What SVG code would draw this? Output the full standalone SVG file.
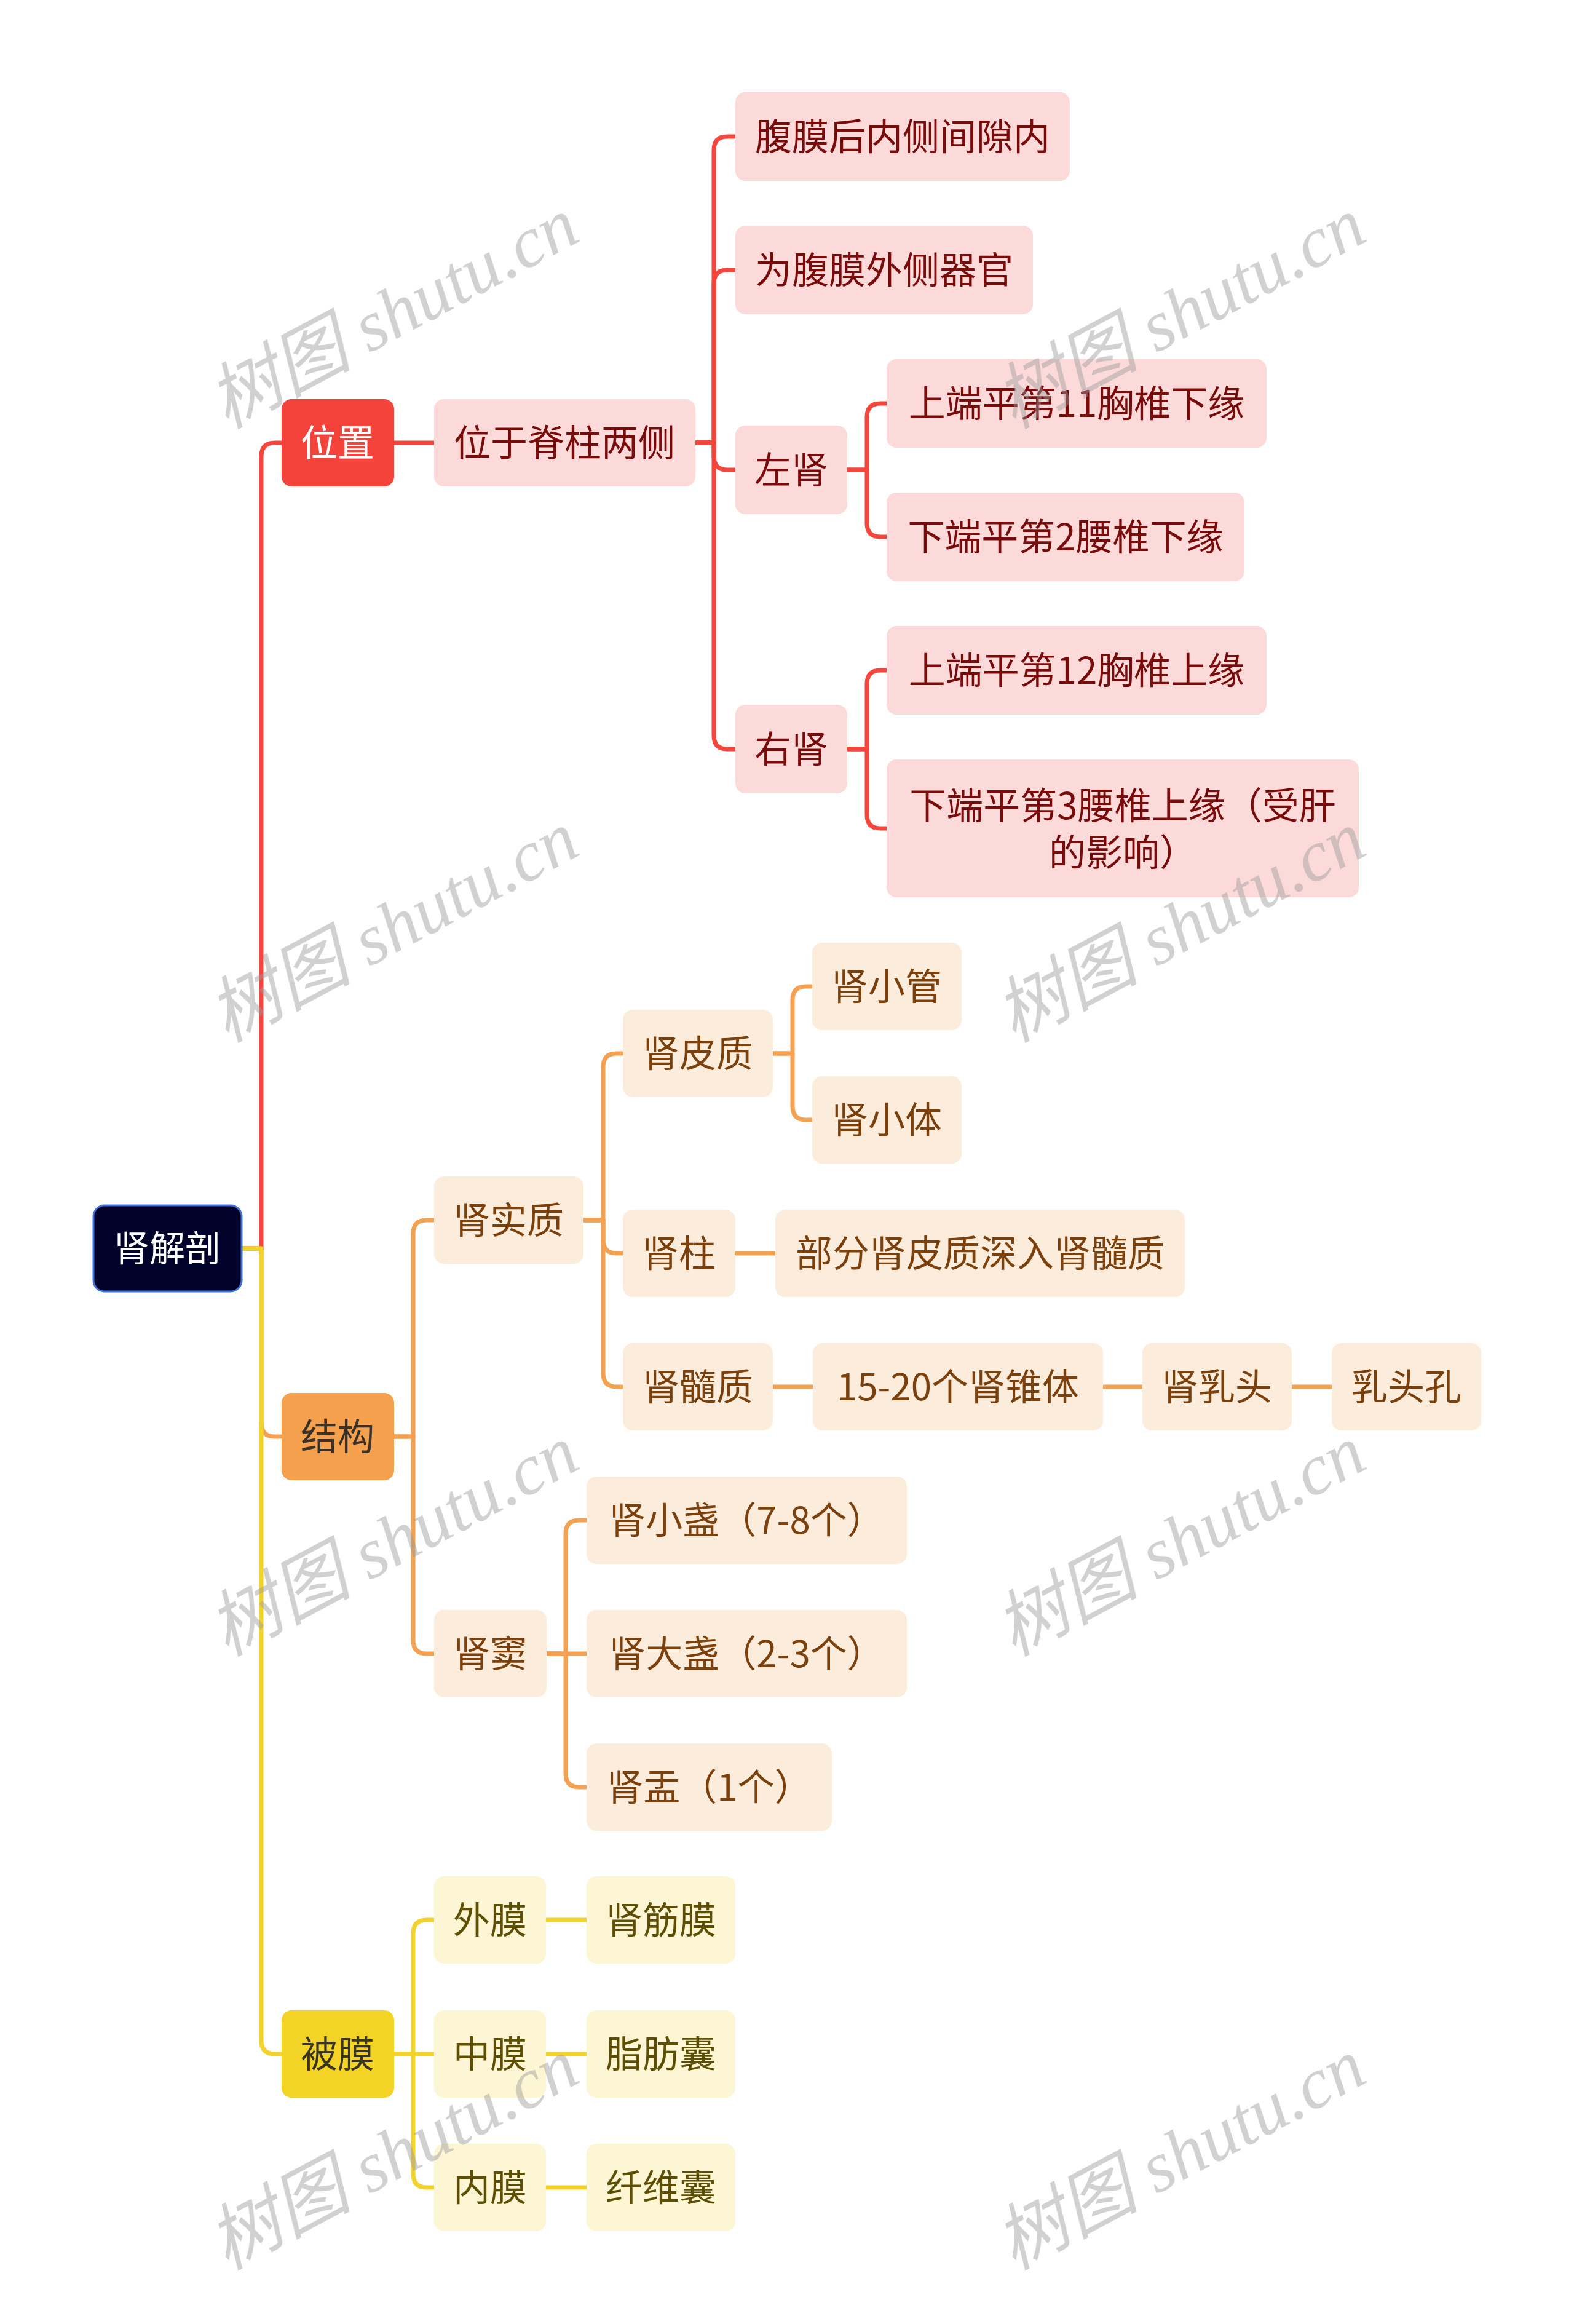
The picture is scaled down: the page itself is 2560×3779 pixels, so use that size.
<svg xmlns="http://www.w3.org/2000/svg" width="2560" height="3779" viewBox="0 0 2560 3779">
<style>
.t{font-family:"Noto Sans CJK SC","Noto Sans",sans-serif;font-size:60px;text-anchor:middle}
.root rect{fill:#01032a;stroke:#3b70d8;stroke-width:3}
.root text{fill:#ffffff;font-size:58px}
.l1r rect{fill:#f4433a}.l1r text{fill:#ffffff}
.l1o rect{fill:#f5a04c}.l1o text{fill:#3a3128}
.l1y rect{fill:#f2d326}.l1y text{fill:#3a3520}
.nr rect{fill:#fddada}.nr text{fill:#7a0b0b}
.no rect{fill:#fcecdc}.no text{fill:#7c400c}
.ny rect{fill:#fcf6d5}.ny text{fill:#5e4e04}
.c path{fill:none;stroke-width:7;stroke-linecap:butt;stroke-linejoin:round}
.cr path{stroke:#f4463c}.co path{stroke:#f4a252}.cy path{stroke:#f2d32c}
.wm{font-family:"Liberation Serif","Noto Sans CJK SC",serif;font-style:italic;font-size:117px;fill:#9a9a9a;opacity:0.45;text-anchor:middle}
</style>
<rect width="2560" height="3779" fill="#ffffff"/>
<g id="connectors" class="c">
<g class="cr">
<path d="M393,2030 H425 V742 Q425,720 447,720 H458"/>
<path d="M641,720 H706"/>
<path d="M1131,720 H1161 V244 Q1161,222 1183,222 H1196"/>
<path d="M1131,720 H1161 V461 Q1161,439 1183,439 H1196"/>
<path d="M1131,720 H1161 V742 Q1161,764 1183,764 H1196"/>
<path d="M1131,720 H1161 V1196 Q1161,1218 1183,1218 H1196"/>
<path d="M1378,764 H1410 V678 Q1410,656 1432,656 H1442"/>
<path d="M1378,764 H1410 V851 Q1410,873 1432,873 H1442"/>
<path d="M1378,1218 H1410 V1112 Q1410,1090 1432,1090 H1442"/>
<path d="M1378,1218 H1410 V1325 Q1410,1347 1432,1347 H1442"/>
</g>
<g class="co">
<path d="M393,2030 H425 V2314 Q425,2336 447,2336 H458"/>
<path d="M641,2336 H672 V2006 Q672,1984 694,1984 H706"/>
<path d="M641,2336 H672 V2667 Q672,2689 694,2689 H706"/>
<path d="M949,1984 H981 V1735 Q981,1713 1003,1713 H1013"/>
<path d="M949,1984 H981 V2016 Q981,2038 1003,2038 H1013"/>
<path d="M949,1984 H981 V2233 Q981,2255 1003,2255 H1013"/>
<path d="M1257,1713 H1289 V1626 Q1289,1604 1311,1604 H1321"/>
<path d="M1257,1713 H1289 V1799 Q1289,1821 1311,1821 H1321"/>
<path d="M1196,2038 H1261"/>
<path d="M1257,2255 H1322"/>
<path d="M1794,2255 H1858"/>
<path d="M2101,2255 H2166"/>
<path d="M889,2689 H920 V2494 Q920,2472 942,2472 H954"/>
<path d="M889,2689 H954"/>
<path d="M889,2689 H920 V2884 Q920,2906 942,2906 H954"/>
</g>
<g class="cy">
<path d="M393,2030 H425 V3318 Q425,3340 447,3340 H458"/>
<path d="M641,3340 H672 V3144 Q672,3122 694,3122 H706"/>
<path d="M641,3340 H706"/>
<path d="M641,3340 H672 V3535 Q672,3557 694,3557 H706"/>
<path d="M888,3122 H954"/>
<path d="M888,3340 H954"/>
<path d="M888,3557 H954"/>
</g>
</g>
<g id="root" class="root t"><rect x="152" y="1960" width="241" height="140" rx="18"/><text x="272" y="2051">肾解剖</text></g>
<g id="n-weizhi" class="l1r t"><rect x="458" y="649" width="183" height="142" rx="16"/><text x="549" y="742">位置</text></g>
<g id="n-weiyu" class="nr t"><rect x="706" y="649" width="425" height="142" rx="16"/><text x="918" y="742">位于脊柱两侧</text></g>
<g id="n-fumo" class="nr t"><rect x="1196" y="150" width="544" height="144" rx="16"/><text x="1468" y="244">腹膜后内侧间隙内</text></g>
<g id="n-waice" class="nr t"><rect x="1196" y="367" width="484" height="144" rx="16"/><text x="1438" y="461">为腹膜外侧器官</text></g>
<g id="n-zuoshen" class="nr t"><rect x="1196" y="692" width="182" height="144" rx="16"/><text x="1287" y="786">左肾</text></g>
<g id="n-youshen" class="nr t"><rect x="1196" y="1146" width="182" height="144" rx="16"/><text x="1287" y="1240">右肾</text></g>
<g id="n-z1" class="nr t"><rect x="1442" y="584" width="618" height="144" rx="16"/><text x="1751" y="678">上端平第11胸椎下缘</text></g>
<g id="n-z2" class="nr t"><rect x="1442" y="801" width="582" height="144" rx="16"/><text x="1733" y="895">下端平第2腰椎下缘</text></g>
<g id="n-y1" class="nr t"><rect x="1442" y="1018" width="618" height="144" rx="16"/><text x="1751" y="1112">上端平第12胸椎上缘</text></g>
<g id="n-y2" class="nr t"><rect x="1442" y="1235" width="768" height="224" rx="16"/><text x="1826" y="1332">下端平第3腰椎上缘（受肝</text><text x="1826" y="1408">的影响）</text></g>
<g id="n-jiegou" class="l1o t"><rect x="458" y="2265" width="183" height="142" rx="16"/><text x="549" y="2358">结构</text></g>
<g id="n-shishizhi" class="no t"><rect x="706" y="1913" width="243" height="142" rx="16"/><text x="827" y="2006">肾实质</text></g>
<g id="n-pizhi" class="no t"><rect x="1013" y="1642" width="244" height="142" rx="16"/><text x="1135" y="1735">肾皮质</text></g>
<g id="n-xiaoguan" class="no t"><rect x="1321" y="1533" width="243" height="142" rx="16"/><text x="1442" y="1626">肾小管</text></g>
<g id="n-xiaoti" class="no t"><rect x="1321" y="1750" width="243" height="142" rx="16"/><text x="1442" y="1843">肾小体</text></g>
<g id="n-shenzhu" class="no t"><rect x="1013" y="1967" width="183" height="142" rx="16"/><text x="1104" y="2060">肾柱</text></g>
<g id="n-bufen" class="no t"><rect x="1261" y="1967" width="666" height="142" rx="16"/><text x="1594" y="2060">部分肾皮质深入肾髓质</text></g>
<g id="n-suizhi" class="no t"><rect x="1013" y="2184" width="244" height="142" rx="16"/><text x="1135" y="2277">肾髓质</text></g>
<g id="n-zhuiti" class="no t"><rect x="1322" y="2184" width="472" height="142" rx="16"/><text x="1558" y="2277">15-20个肾锥体</text></g>
<g id="n-rutou" class="no t"><rect x="1858" y="2184" width="243" height="142" rx="16"/><text x="1979" y="2277">肾乳头</text></g>
<g id="n-rutoukong" class="no t"><rect x="2166" y="2184" width="243" height="142" rx="16"/><text x="2287" y="2277">乳头孔</text></g>
<g id="n-shendou" class="no t"><rect x="706" y="2618" width="183" height="142" rx="16"/><text x="797" y="2711">肾窦</text></g>
<g id="n-xiaozhan" class="no t"><rect x="954" y="2401" width="521" height="142" rx="16"/><text x="1214" y="2494">肾小盏（7-8个）</text></g>
<g id="n-dazhan" class="no t"><rect x="954" y="2618" width="521" height="142" rx="16"/><text x="1214" y="2711">肾大盏（2-3个）</text></g>
<g id="n-shenyu" class="no t"><rect x="954" y="2835" width="399" height="142" rx="16"/><text x="1153" y="2928">肾盂（1个）</text></g>
<g id="n-beimo" class="l1y t"><rect x="458" y="3269" width="183" height="142" rx="16"/><text x="549" y="3362">被膜</text></g>
<g id="n-waimo" class="ny t"><rect x="706" y="3051" width="182" height="142" rx="16"/><text x="797" y="3144">外膜</text></g>
<g id="n-zhongmo" class="ny t"><rect x="706" y="3269" width="182" height="142" rx="16"/><text x="797" y="3362">中膜</text></g>
<g id="n-neimo" class="ny t"><rect x="706" y="3486" width="182" height="142" rx="16"/><text x="797" y="3579">内膜</text></g>
<g id="n-jinmo" class="ny t"><rect x="954" y="3051" width="242" height="142" rx="16"/><text x="1075" y="3144">肾筋膜</text></g>
<g id="n-zhifang" class="ny t"><rect x="954" y="3269" width="242" height="142" rx="16"/><text x="1075" y="3362">脂肪囊</text></g>
<g id="n-xianwei" class="ny t"><rect x="954" y="3486" width="242" height="142" rx="16"/><text x="1075" y="3579">纤维囊</text></g>
<g id="watermarks">
<text class="wm" transform="translate(658,544) rotate(-28)">树图 shutu.cn</text>
<text class="wm" transform="translate(1938,544) rotate(-28)">树图 shutu.cn</text>
<text class="wm" transform="translate(658,1542) rotate(-28)">树图 shutu.cn</text>
<text class="wm" transform="translate(1938,1542) rotate(-28)">树图 shutu.cn</text>
<text class="wm" transform="translate(658,2540) rotate(-28)">树图 shutu.cn</text>
<text class="wm" transform="translate(1938,2540) rotate(-28)">树图 shutu.cn</text>
<text class="wm" transform="translate(658,3538) rotate(-28)">树图 shutu.cn</text>
<text class="wm" transform="translate(1938,3538) rotate(-28)">树图 shutu.cn</text>
</g>
</svg>
